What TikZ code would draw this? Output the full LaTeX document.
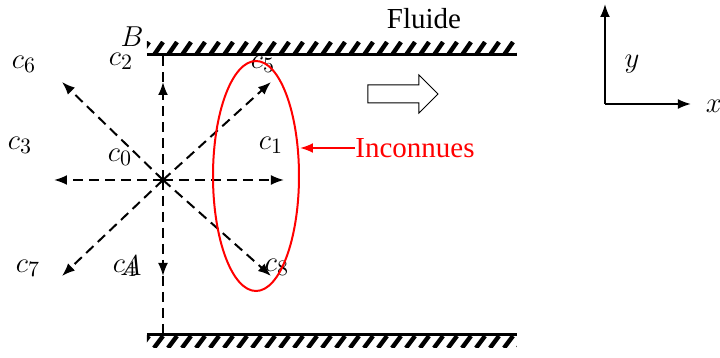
\documentclass[tikz,border=0pt]{standalone}
\usepackage{fontspec}
\setmainfont{Liberation Serif}
\usetikzlibrary{arrows.meta,shapes.geometric}
\definecolor{unknownRed}{RGB}{255,0,0}

\begin{document}
\begin{tikzpicture}[x=0.5pt,y=-0.5pt,
    guide/.style={line width=1pt, dash pattern=on 5pt off 3pt},
    vel/.style={guide, -{Latex[length=6.5pt,width=5pt]}},
    lbl/.style={font=\fontsize{15}{17}\selectfont, inner sep=0pt},
    hatch/.style={line width=2.2pt}]
  \useasboundingbox (0,0) rectangle (720,358);

  \begin{scope}
    \clip (147,42) rectangle (517,55);
    \foreach \x in {140,154,...,520}
      \draw[hatch] (\x,55) -- (\x+9,42);
  \end{scope}
  \begin{scope}
    \clip (147,336) rectangle (517,348);
    \foreach \x in {140,154,...,520}
      \draw[hatch] (\x,348) -- (\x+9,336);
  \end{scope}
  \draw[line width=1.5pt] (147,55) -- (517,55);
  \draw[line width=1.5pt] (147,335) -- (517,335);

  \coordinate (O) at (163,180);
  \coordinate (wallT) at (163,56);
  \coordinate (wallB) at (163,334);
  \coordinate (t2) at (163,82);
  \coordinate (t4) at (163,276);
  \coordinate (t1) at (284,180);
  \coordinate (t3) at (54,180);
  \coordinate (t5) at (271,82);
  \coordinate (t6) at (62,82);
  \coordinate (t7) at (62,276);
  \coordinate (t8) at (271,276);
  \draw[guide] (t2) -- (wallT);
  \draw[guide] (t4) -- (wallB);
  \foreach \t in {t1,t2,t3,t4,t5,t6,t7,t8}
    \draw[vel] (O) -- (\t);

  \node[lbl] (c6) at (24,64) {$c_6$};
  \node[lbl] (c2) at (121,61) {$c_2$};
  \node[lbl] (B) at (132,37) {$B$};
  \node[lbl] (c3) at (20,145) {$c_3$};
  \node[lbl] (c0) at (120,157) {$c_0$};
  \node[lbl] (c1) at (271,145) {$c_1$};
  \node[lbl] (c5) at (263,64) {$c_5$};
  \node[lbl] (c7) at (28,268) {$c_7$};
  \node[lbl] (c4) at (125,268) {$c_4$};
  \node[lbl] (A) at (131,266) {$A$};
  \node[lbl] (c8) at (277,267) {$c_8$};

  \node[draw=unknownRed, line width=1pt, ellipse, minimum width=43pt,
        minimum height=115pt, inner sep=0pt] (unk) at (256,176) {};
  \node[text=unknownRed, anchor=west, inner sep=0pt,
        font=\fontsize{14.5}{17}\selectfont] (inc) at (355,148) {Inconnues};
  \draw[unknownRed, line width=1pt, -{Latex[length=6.5pt,width=5pt]}]
    (inc.west) -- (inc.west -| unk.east);

  \node[anchor=base, inner sep=0pt, font=\fontsize{14.5}{17}\selectfont]
    (fluide) at (424,29) {Fluide};
  \draw[line width=0.5pt] (368,85) -- (419,85) -- (419,75) -- (438,94)
    -- (419,113) -- (419,103) -- (368,103) -- cycle;

  \coordinate (orig) at (605,104);
  \coordinate (xend) at (691,104);
  \coordinate (yend) at (605,4);
  \draw[line width=1pt, -{Latex[length=6.5pt,width=5pt]}] (orig) -- (xend);
  \draw[line width=1pt, -{Latex[length=6.5pt,width=5pt]}] (orig) -- (yend);
  \node[lbl] (xlab) at (714,106) {$x$};
  \node[lbl] (ylab) at (632,64) {$y$};
\end{tikzpicture}
\end{document}
